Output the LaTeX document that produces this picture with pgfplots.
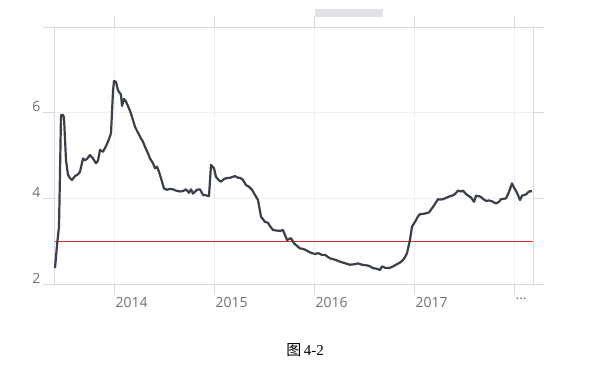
\documentclass[border=0pt]{standalone}
\usepackage{pgfplots}
\pgfplotsset{compat=1.18}
\usepackage{fontspec}
\setmainfont{Open Sans}
\newfontfamily\cjk{Noto Sans CJK SC}
\newfontfamily\serifnum{Liberation Serif}
\definecolor{gridc}{HTML}{EFF0F4}
\definecolor{axc}{HTML}{D9DAE0}
\definecolor{tickc}{HTML}{707070}
\definecolor{linec}{HTML}{3A3F48}
\begin{document}
\begin{tikzpicture}
\useasboundingbox (-54pt,-83pt) rectangle (558pt,284pt);
\fill[color=axc!80] (261pt,267pt) rectangle (329pt,275pt);
\begin{axis}[
  scale only axis, width=479pt, height=257pt,
  xmin=2013.4, xmax=2018.19, ymin=2, ymax=8,
  xtick={2014,2015,2016,2017,2018},
  xticklabels={2014,2015,2016,2017,.{}.{}.},
  ytick={2,4,6,8},
  yticklabels={2,4,6,{}},
  grid=major, major grid style={gridc, line width=0.6pt},
  axis line style={axc, line width=0.9pt},
  tick align=outside,
  major tick length=11pt,
  tick style={axc, line width=0.7pt},
  ticklabel style={font=\fontsize{14}{16}\selectfont, text=tickc},
  xticklabel style={anchor=north west, xshift=-2pt, yshift=1pt},
  yticklabel style={xshift=1pt, yshift=6pt},
  clip=false,
]
\addplot[color=red!85!black, line width=1.1pt, opacity=0.85] coordinates {(2013.41,3) (2018.19,3)};
\addplot[linec, line width=2.2pt, line join=round] coordinates {
(2013.41,2.37) (2013.43,2.9) (2013.45,3.34) (2013.46,4.6) (2013.47,5.94)
(2013.49,5.95) (2013.50,5.88) (2013.52,4.89) (2013.54,4.55) (2013.56,4.47)
(2013.58,4.43) (2013.61,4.52) (2013.64,4.56) (2013.66,4.62) (2013.69,4.93)
(2013.71,4.89) (2013.73,4.92) (2013.76,5.01) (2013.79,4.93) (2013.82,4.82)
(2013.84,4.88) (2013.86,5.13) (2013.89,5.09) (2013.92,5.22) (2013.94,5.32)
(2013.97,5.52) (2013.99,6.5) (2014.00,6.74) (2014.02,6.72) (2014.04,6.52)
(2014.07,6.42) (2014.08,6.16) (2014.10,6.32) (2014.12,6.26) (2014.15,6.1)
(2014.17,5.98) (2014.21,5.67) (2014.26,5.44) (2014.29,5.32) (2014.31,5.2)
(2014.34,5.05) (2014.36,4.93) (2014.39,4.82) (2014.41,4.70) (2014.43,4.74)
(2014.45,4.62) (2014.47,4.47) (2014.50,4.23) (2014.53,4.2) (2014.56,4.22)
(2014.59,4.21) (2014.62,4.18) (2014.66,4.16) (2014.69,4.17) (2014.72,4.21)
(2014.75,4.13) (2014.77,4.21) (2014.79,4.11) (2014.83,4.2) (2014.86,4.21)
(2014.89,4.08) (2014.92,4.07) (2014.95,4.05) (2014.97,4.78) (2015.00,4.70)
(2015.02,4.50) (2015.05,4.42) (2015.07,4.39) (2015.10,4.45) (2015.12,4.47)
(2015.16,4.48) (2015.21,4.52) (2015.24,4.48) (2015.26,4.48) (2015.29,4.43)
(2015.32,4.31) (2015.35,4.27) (2015.38,4.2) (2015.41,4.08) (2015.44,3.96)
(2015.47,3.57) (2015.51,3.45) (2015.54,3.43) (2015.56,3.35) (2015.59,3.26)
(2015.62,3.25) (2015.66,3.24) (2015.69,3.26) (2015.73,3.03) (2015.77,3.07)
(2015.80,2.95) (2015.82,2.91) (2015.86,2.83) (2015.89,2.82) (2015.92,2.79)
(2015.95,2.75) (2015.98,2.72) (2016.01,2.7) (2016.04,2.72) (2016.08,2.68)
(2016.11,2.68) (2016.14,2.63) (2016.16,2.60) (2016.19,2.58) (2016.22,2.56)
(2016.26,2.52) (2016.29,2.50) (2016.33,2.47) (2016.36,2.45) (2016.40,2.46)
(2016.44,2.48) (2016.48,2.45) (2016.51,2.44) (2016.54,2.43) (2016.57,2.4)
(2016.59,2.37) (2016.62,2.36) (2016.66,2.33) (2016.68,2.41) (2016.71,2.38)
(2016.75,2.37) (2016.79,2.41) (2016.82,2.45) (2016.86,2.5) (2016.89,2.56)
(2016.91,2.63) (2016.93,2.72) (2016.96,3.03) (2016.98,3.34) (2017.02,3.49)
(2017.04,3.58) (2017.06,3.63) (2017.10,3.64) (2017.15,3.67) (2017.19,3.80)
(2017.24,3.98) (2017.26,3.97) (2017.29,3.98) (2017.33,4.02) (2017.36,4.05)
(2017.39,4.07) (2017.41,4.10) (2017.44,4.18) (2017.47,4.16) (2017.49,4.18)
(2017.52,4.1) (2017.55,4.05) (2017.57,4.02) (2017.60,3.92) (2017.62,4.06)
(2017.65,4.05) (2017.67,4.03) (2017.70,3.97) (2017.72,3.94) (2017.75,3.95)
(2017.78,3.93) (2017.82,3.88) (2017.85,3.92) (2017.87,3.98) (2017.90,3.99)
(2017.92,4.0) (2017.95,4.15) (2017.98,4.35) (2018.00,4.25) (2018.03,4.13)
(2018.06,3.96) (2018.08,4.06) (2018.10,4.08) (2018.12,4.09) (2018.14,4.14)
(2018.16,4.17) (2018.18,4.16)
};
\end{axis}
\node[text=black] at (251pt,-66.5pt) {\fontsize{15}{17}\selectfont{\cjk 图}\,{\serifnum 4-2}};
\end{tikzpicture}
\end{document}
